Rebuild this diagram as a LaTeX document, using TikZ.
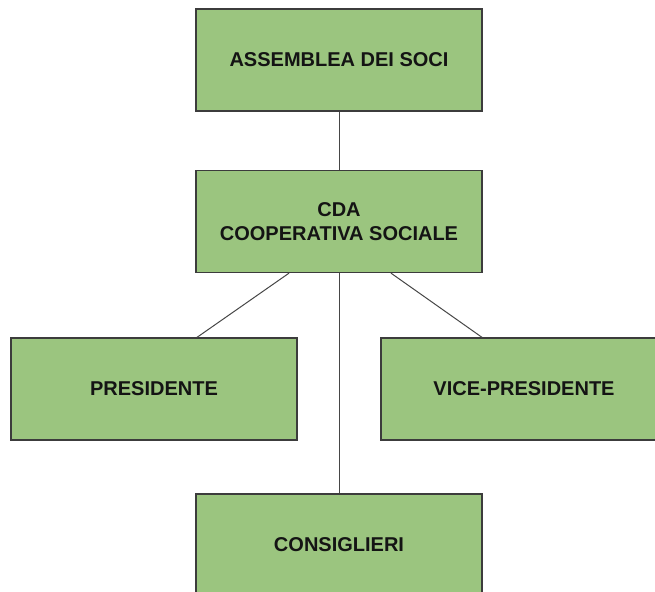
\documentclass[tikz,border=0pt]{standalone}
\usepackage{fontspec}
\setmainfont{Liberation Sans}
\definecolor{boxfill}{RGB}{155,197,127}
\definecolor{boxdraw}{RGB}{60,60,60}
\definecolor{linkcol}{RGB}{70,70,70}
\tikzset{
  orgbox/.style={draw=boxdraw, line width=1.3pt, fill=boxfill, rectangle, inner sep=0pt,
    minimum width=286pt, minimum height=102pt, align=center,
    font=\fontsize{20}{24}\selectfont\bfseries, text=black!92},
  link/.style={draw=linkcol, line width=1pt}
}
\begin{document}
\begin{tikzpicture}[x=1pt,y=-1pt]
\useasboundingbox (0,0) rectangle (655,591);
\clip (0,0) rectangle (655,591);
\node[orgbox] (ass) at (339,60) {ASSEMBLEA DEI SOCI};
\node[orgbox] (cda) at (339,221.5) {CDA\\COOPERATIVA SOCIALE};
\node[orgbox] (pres) at (154,389) {PRESIDENTE};
\node[orgbox] (vice) at (524,389) {VICE-PRESIDENTE};
\node[orgbox] (cons) at (339,545) {CONSIGLIERI};
\draw[link] (ass.south) -- (cda.north);
\draw[link] (cda.south) -- (cons.north);
\coordinate (cdaL) at ([xshift=-50pt]cda.south);
\coordinate (cdaR) at ([xshift=52pt]cda.south);
\coordinate (presT) at ([xshift=43pt]pres.north);
\coordinate (viceT) at ([xshift=-42pt]vice.north);
\draw[link] (cdaL) -- (presT);
\draw[link] (cdaR) -- (viceT);
\end{tikzpicture}
\end{document}
